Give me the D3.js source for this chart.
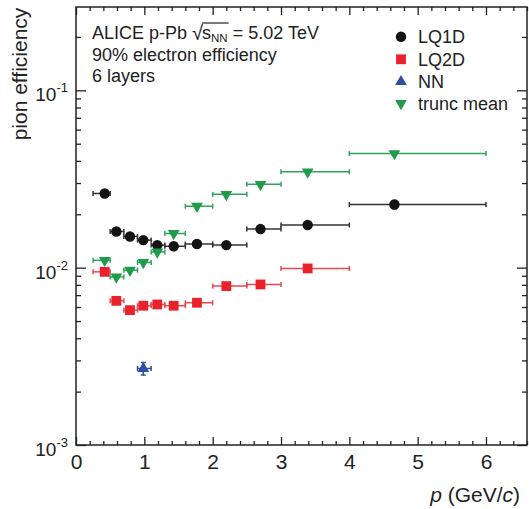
<!DOCTYPE html>
<html><head><meta charset="utf-8">
<script src="https://cdn.jsdelivr.net/npm/d3@7"></script>
<style>body{margin:0;background:#fff}svg{display:block}text{font-family:"Liberation Sans",Arial,sans-serif;fill:#222}</style>
</head><body><svg id="c" width="529" height="509"></svg>
<script>
// ---- data ----
const pMean   = [0.42, 0.59, 0.79, 0.985, 1.19, 1.43, 1.77, 2.2, 2.7, 3.39, 4.66];
const binLow  = [0.25, 0.5, 0.7, 0.9, 1.1, 1.3, 1.6, 2.0, 2.5, 3.0, 4.0];
const binHigh = [0.5, 0.7, 0.9, 1.1, 1.3, 1.6, 2.0, 2.5, 3.0, 4.0, 6.0];
const lq1d      = [0.0262, 0.0160, 0.0150, 0.0143, 0.0134, 0.0132, 0.0136, 0.0134, 0.0165, 0.0174, 0.0227];
const lq1dErr   = [0, 0, 0, 0, 0, 0, 0, 0, 0, 0.0003, 0.0012];
const lq2d      = [0.00947, 0.0065, 0.00576, 0.0061, 0.0062, 0.0061, 0.00634, 0.00787, 0.00804, 0.0099];
const lq2dErr   = [0, 0, 0, 0, 0, 0, 0, 0, 0.0002, 0.0004];
const nnP = [0.985], nnLow = [0.9], nnHigh = [1.1];
const nn        = [0.0027];
const nnErr     = [0.00022];
const trunc     = [0.0110, 0.00887, 0.00968, 0.0107, 0.01227, 0.01558, 0.0222, 0.0259, 0.0295, 0.0347, 0.0440];
const truncErr  = [0, 0, 0, 0, 0, 0, 0, 0, 0, 0, 0];
const xTicks = [0, 1, 2, 3, 4, 5, 6];
const yTickExp = [-3, -2, -1];
const seriesNames = ["LQ1D", "LQ2D", "NN", "trunc mean"];

// ---- layout ----
const svg = d3.select("#c");
const L = 76, R = 527, T = 7, B = 445;
const x = d3.scaleLinear().domain([0, 6.6]).range([L, R]);
const y = d3.scaleLog().domain([1e-3, 0.295]).range([B, T]);
const ink = "#222";

// minor ticks
const xMinor = d3.range(0, 6.61, 0.2).map(v => +v.toFixed(1)).filter(v => Math.abs(v - Math.round(v)) > 1e-6);
const yMinor = [];
[1e-3, 1e-2, 1e-1].forEach(d => { for (let k = 2; k <= 9; k++) { const v = k * d; if (v <= 0.295) yMinor.push(v); } });
const yMajor = yTickExp.map(e => Math.pow(10, e));

function styleAxis(g) { g.select(".domain").remove(); g.selectAll("line").attr("stroke", ink).attr("stroke-width", 1.3); }

// bottom
svg.append("g").attr("transform", `translate(0,${B})`)
  .call(d3.axisBottom(x).tickValues(xTicks).tickSize(-8).tickPadding(9).tickFormat(d3.format("d")))
  .call(styleAxis)
  .call(g => g.selectAll("text").attr("font-size", 21).attr("fill", ink).attr("font-family", "Liberation Sans, Arial, sans-serif"));
svg.append("g").attr("transform", `translate(0,${B})`)
  .call(d3.axisBottom(x).tickValues(xMinor).tickSize(-4).tickFormat("")).call(styleAxis);
// top
svg.append("g").attr("transform", `translate(0,${T})`)
  .call(d3.axisTop(x).tickValues(xTicks).tickSize(-8).tickFormat("")).call(styleAxis);
svg.append("g").attr("transform", `translate(0,${T})`)
  .call(d3.axisTop(x).tickValues(xMinor).tickSize(-4).tickFormat("")).call(styleAxis);
// left
svg.append("g").attr("transform", `translate(${L},0)`)
  .call(d3.axisLeft(y).tickValues(yMajor).tickSize(-10).tickFormat("")).call(styleAxis);
svg.append("g").attr("transform", `translate(${L},0)`)
  .call(d3.axisLeft(y).tickValues(yMinor).tickSize(-5).tickFormat("")).call(styleAxis);
// right
svg.append("g").attr("transform", `translate(${R},0)`)
  .call(d3.axisRight(y).tickValues(yMajor).tickSize(-10).tickFormat("")).call(styleAxis);
svg.append("g").attr("transform", `translate(${R},0)`)
  .call(d3.axisRight(y).tickValues(yMinor).tickSize(-5).tickFormat("")).call(styleAxis);

// frame
svg.append("rect").attr("x", L).attr("y", T).attr("width", R - L).attr("height", B - T)
  .attr("fill", "none").attr("stroke", ink).attr("stroke-width", 1.5);

// y tick labels
yTickExp.forEach(e => {
  const t = svg.append("text").attr("x", 68).attr("y", y(Math.pow(10, e)) + 11).attr("text-anchor", "end");
  t.append("tspan").attr("font-size", 19).text("10");
  t.append("tspan").attr("font-size", 13).attr("dy", -9).text("-" + Math.abs(e));
});

// axis titles
svg.append("text").attr("transform", "translate(27,74) rotate(-90)").attr("text-anchor", "middle")
  .attr("font-size", 21).text("pion efficiency");
const xt = svg.append("text").attr("x", 520).attr("y", 502).attr("text-anchor", "end").attr("font-size", 21);
xt.append("tspan").attr("font-style", "italic").text("p");
xt.append("tspan").text("\u00A0(GeV/");
xt.append("tspan").attr("font-style", "italic").text("c");
xt.append("tspan").text(")");

// annotation
(function () {
  const fs = 18, x0 = 92, yb = 38.5;
  let cx = x0;
  const t1 = svg.append("text").attr("x", cx).attr("y", yb).attr("font-size", fs).text("ALICE p-Pb\u00A0");
  cx += t1.node().getComputedTextLength();
  const rad = svg.append("text").attr("x", cx).attr("y", yb + 1).attr("font-size", fs + 2).text("√");
  cx += rad.node().getComputedTextLength() - 1;
  const sx = cx;
  const ts = svg.append("text").attr("x", cx).attr("y", yb).attr("font-size", fs).text("s");
  cx += ts.node().getComputedTextLength();
  const tn = svg.append("text").attr("x", cx).attr("y", yb + 3.5).attr("font-size", 11.5).text("NN");
  cx += tn.node().getComputedTextLength() + 1;
  svg.append("line").attr("x1", sx).attr("x2", cx).attr("y1", yb - 15.5).attr("y2", yb - 15.5).attr("stroke", ink).attr("stroke-width", 1.2);
  svg.append("text").attr("x", cx + 4).attr("y", yb).attr("font-size", fs).text("= 5.02 TeV");
  svg.append("text").attr("x", x0).attr("y", 60.5).attr("font-size", fs).text("90% electron efficiency");
  svg.append("text").attr("x", x0).attr("y", 82).attr("font-size", fs).text("6 layers");
})();

// series
const black = "#141414", red = "#e8212b", blue = "#2f4fa3", green = "#1f9b4b";
const sym = {
  circle: d3.symbol().type(d3.symbolCircle).size(86)(),
  square: d3.symbol().type(d3.symbolSquare).size(96)(),
  tri: d3.symbol().type(d3.symbolTriangle).size(60)()
};
const series = [
  { name: seriesNames[0], v: lq1d, e: lq1dErr, p: pMean, lo: binLow, hi: binHigh, c: black, bar: "#333", s: sym.circle, rot: 0 },
  { name: seriesNames[1], v: lq2d, e: lq2dErr, p: pMean, lo: binLow, hi: binHigh, c: red, bar: "#e8484e", s: sym.square, rot: 0 },
  { name: seriesNames[2], v: nn, e: nnErr, p: nnP, lo: nnLow, hi: nnHigh, c: blue, bar: blue, s: sym.tri, rot: 0 },
  { name: seriesNames[3], v: trunc, e: truncErr, p: pMean, lo: binLow, hi: binHigh, c: green, bar: "#2ea35a", s: sym.tri, rot: 180 }
];
const cap = 2.5;
series.forEach(S => {
  const g = svg.append("g");
  const pts = S.v.map((v, i) => ({ v, e: S.e[i], p: S.p[i], lo: S.lo[i], hi: S.hi[i] }));
  const eb = g.selectAll("g.eb").data(pts).join("g").attr("stroke", S.bar).attr("stroke-width", 1.5);
  eb.append("line").attr("x1", d => x(d.lo)).attr("x2", d => x(d.hi)).attr("y1", d => y(d.v)).attr("y2", d => y(d.v));
  eb.append("line").attr("x1", d => x(d.lo)).attr("x2", d => x(d.lo)).attr("y1", d => y(d.v) - cap).attr("y2", d => y(d.v) + cap);
  eb.append("line").attr("x1", d => x(d.hi)).attr("x2", d => x(d.hi)).attr("y1", d => y(d.v) - cap).attr("y2", d => y(d.v) + cap);
  const ve = eb.filter(d => d.e > 0);
  ve.append("line").attr("x1", d => x(d.p)).attr("x2", d => x(d.p)).attr("y1", d => y(d.v - d.e)).attr("y2", d => y(d.v + d.e));
  ve.append("line").attr("x1", d => x(d.p) - cap).attr("x2", d => x(d.p) + cap).attr("y1", d => y(d.v - d.e)).attr("y2", d => y(d.v - d.e));
  ve.append("line").attr("x1", d => x(d.p) - cap).attr("x2", d => x(d.p) + cap).attr("y1", d => y(d.v + d.e)).attr("y2", d => y(d.v + d.e));
  g.selectAll("path.m").data(pts).join("path").attr("class", "m").attr("d", S.s).attr("fill", S.c)
    .attr("transform", d => `translate(${x(d.p)},${y(d.v)}) rotate(${S.rot})`);
});

// legend
const legY = [36.7, 59.3, 81.7, 103.5];
series.forEach((S, i) => {
  svg.append("path").attr("d", S.s).attr("fill", S.c).attr("transform", `translate(401,${legY[i]}) rotate(${S.rot})`);
  svg.append("text").attr("x", 418).attr("y", legY[i] + 6.5).attr("font-size", 18).text(S.name);
});
</script></body></html>
